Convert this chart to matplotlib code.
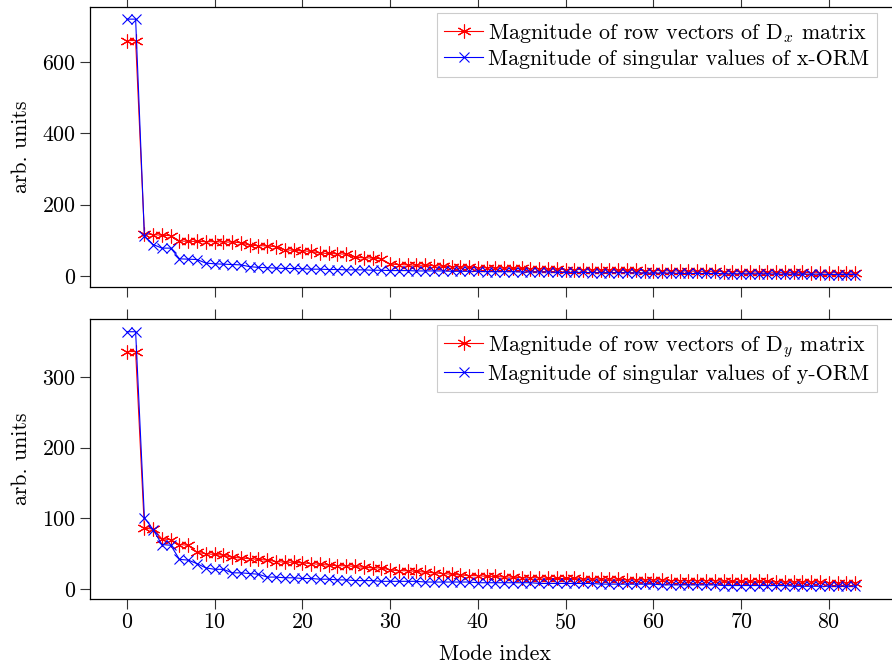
import matplotlib
matplotlib.use("Agg")
import matplotlib.pyplot as plt
import numpy as np

plt.rcParams['font.family'] = 'serif'
plt.rcParams['font.serif'] = ['cmr10']
plt.rcParams['mathtext.fontset'] = 'cm'
plt.rcParams['axes.formatter.use_mathtext'] = True

modes = np.arange(84)

dx_rows = [660, 660, 118, 116, 114, 113, 98, 97, 97, 96, 96, 95, 95, 93, 86, 85, 84, 82,
           73, 72, 70, 69, 64, 63, 62, 61, 52, 51, 50, 48, 33, 32, 31, 30, 30, 29,
           27, 26, 25, 24, 23, 23, 22, 22,
           21, 21, 20, 20, 19, 19, 18, 18, 18, 17, 17, 17, 16, 16, 16, 15, 15, 15, 14, 14,
           14, 13, 13, 13, 12, 12, 12, 11, 11, 11, 10, 10, 10, 10, 9, 9, 9, 9, 8, 8]
x_orm_sv = [720, 720, 112, 88, 78, 78, 48, 47, 46, 36, 34, 33, 32, 31, 26, 24, 23, 22, 21, 21, 20,
            19, 19, 18, 18, 17, 17, 17, 16, 16, 15,
            15, 15, 14, 14, 14, 14, 13, 13, 13, 13, 12, 12, 12, 12, 11, 11, 11, 11, 10, 10,
            10, 10, 9, 9, 9, 9, 9, 8, 8, 8, 8, 8, 7, 7, 7, 7, 7, 6, 6, 6,
            6, 6, 6, 5, 5, 5, 5, 5, 5, 4, 4, 4, 4]
dy_rows = [336, 336, 86, 85, 71, 70, 63, 62, 52, 50, 49, 48, 45, 44, 43, 42, 41, 39, 38, 38,
           37, 36, 35, 34, 33, 33, 32, 31, 30, 30, 27, 26, 26, 25, 24, 23, 22, 21, 20, 19,
           19, 18, 18, 17,
           17, 16, 16, 16, 15, 15, 15, 15, 14, 14, 14, 14, 14, 13, 13, 13, 13, 13, 12, 12,
           12, 12, 12, 12, 11, 11, 11, 11, 11, 11, 10, 10, 10, 10, 10, 10, 9, 9, 9, 9]
y_orm_sv = [364, 364, 101, 84, 63, 62, 42, 41, 36, 30, 28, 28, 23, 23, 22, 21, 17, 17, 16, 16,
            15, 15, 14, 14, 13, 13, 12, 12, 12, 11, 11,
            11, 11, 11, 10, 10, 10, 10, 10, 10, 9, 9, 9, 9, 9, 9, 9, 8, 8, 8, 8,
            8, 8, 8, 7, 7, 7, 7, 7, 7, 7, 6, 6, 6, 6, 6, 6, 6, 5, 5, 5,
            5, 5, 5, 5, 5, 4, 4, 4, 4, 4, 4, 4, 4]

xticks = [0, 10, 20, 30, 40, 50, 60, 70, 80]
top_yticks = [0, 200, 400, 600]
bot_yticks = [0, 100, 200, 300]

W, H = 892, 666
fig = plt.figure(figsize=(W / 100, H / 100), dpi=100)

left_px, right_px = 90, 899
ax1 = fig.add_axes([left_px / W, 1 - 287 / H, (right_px - left_px) / W, 280 / H])
ax2 = fig.add_axes([left_px / W, 1 - 599 / H, (right_px - left_px) / W, 280 / H])

FS = 15.8
ast = (6, 2, 0)

panels = [
    (ax1, dx_rows, x_orm_sv, r'Magnitude of row vectors of $\mathrm{D}_x$ matrix',
     'Magnitude of singular values of x-ORM', (-31, 754), top_yticks, 13),
    (ax2, dy_rows, y_orm_sv, r'Magnitude of row vectors of $\mathrm{D}_y$ matrix',
     'Magnitude of singular values of y-ORM', (-14, 382), bot_yticks, 325),
]

for ax, red, blue, lr, lb, ylim, yt, legtop in panels:
    ax.plot(modes, red, color='#ff0000', lw=0.8, marker=ast, ms=10, mew=0.8, label=lr)
    ax.plot(modes, blue, color='#0000ff', lw=0.8, marker='x', ms=7.5, mew=0.8, label=lb)
    ax.set_xlim(-4.2, 88)
    ax.set_ylim(*ylim)
    ax.set_xticks(xticks)
    ax.set_yticks(yt)
    ax.tick_params(direction='out', length=7, width=0.8, color='#333333',
                   labelsize=FS, top=True, right=False, pad=3)
    ax.spines['right'].set_visible(False)
    for s in ['left', 'top', 'bottom']:
        ax.spines[s].set_linewidth(0.9)
    ax.set_ylabel('arb. units', fontsize=FS, labelpad=8)
    leg = ax.legend(loc='upper right', bbox_to_anchor=(877 / W, 1 - legtop / H),
                    bbox_transform=fig.transFigure, borderaxespad=0, fontsize=FS,
                    fancybox=False, framealpha=1, edgecolor='#cccccc',
                    handlelength=1.75, handletextpad=0.25, borderpad=0.35,
                    labelspacing=0.22)
    leg.get_frame().set_linewidth(0.8)

ax1.tick_params(labelbottom=False)
ax2.set_xlabel('Mode index', fontsize=FS, labelpad=8)

fig.savefig('out.png', dpi=100)
